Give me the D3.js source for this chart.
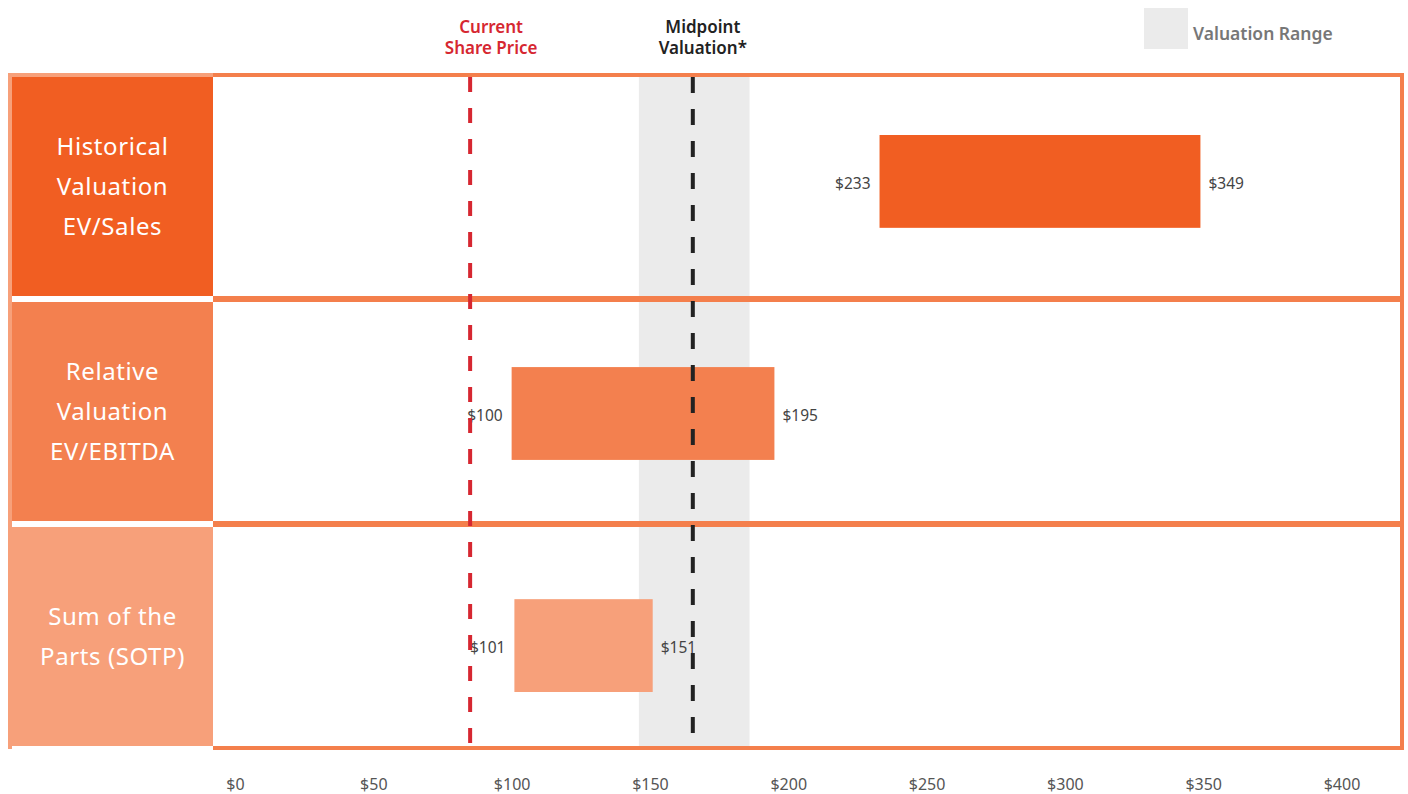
<!DOCTYPE html>
<html>
<head>
  <meta charset="utf-8">
  <title>Valuation Football Field</title>
  <script src="https://d3js.org/d3.v7.min.js"></script>
  <style>
    body { margin: 0; background: #fff; }
    svg { display: block; font-family: "Noto Sans", sans-serif; }
  </style>
</head>
<body>
  <svg id="chart" width="1408" height="794"></svg>

<script>
  /* data */
  const methods = ["Historical Valuation EV/Sales", "Relative Valuation EV/EBITDA", "Sum of the Parts (SOTP)"];
  const methodLines = [["Historical", "Valuation", "EV/Sales"], ["Relative", "Valuation", "EV/EBITDA"], ["Sum of the", "Parts (SOTP)"]];
  const lowValues = [233, 100, 101];
  const highValues = [349, 195, 151];
  const currentPrice = 85;
  const midpointValue = 165.5;
  const rangeBounds = [146, 186];
  const tickValues = [0, 50, 100, 150, 200, 250, 300, 350, 400];

  /* styles */
  const panelColors = ["#f15e22", "#f3804f", "#f7a07a"];
  const frameColor = "#f47f4c";
  const redColor = "#d62731";
  const darkColor = "#222222";
  const rangeColor = "#ebebeb";

  const svg = d3.select("#chart");

  const frame = { left: 8, panelLeft: 12, plotLeft: 213, right: 1404, top: 77, bottom: 746 };

  const x = d3.scaleLinear()
    .domain([0, 400])
    .range([235, 1341.5]);

  // rows (panels) and bars use their own band scales
  const rowY = d3.scaleBand()
    .domain(methods)
    .range([frame.top, frame.bottom])
    .paddingInner(6 / 225)
    .paddingOuter(0);

  const barY = d3.scaleBand()
    .domain(methods)
    .range([135, 692])
    .paddingInner(0.6)
    .paddingOuter(0);

  /* valuation range band */
  svg.append("rect")
    .attr("x", x(rangeBounds[0]))
    .attr("y", frame.top)
    .attr("width", x(rangeBounds[1]) - x(rangeBounds[0]))
    .attr("height", frame.bottom - frame.top)
    .attr("fill", rangeColor);

  /* frame */
  svg.append("rect")
    .attr("x", frame.left)
    .attr("y", 73)
    .attr("width", frame.right - frame.left)
    .attr("height", 4)
    .attr("fill", frameColor);

  svg.append("rect")
    .attr("x", frame.right - 4)
    .attr("y", 73)
    .attr("width", 4)
    .attr("height", 677)
    .attr("fill", frameColor);

  svg.append("rect")
    .attr("x", frame.plotLeft)
    .attr("y", frame.bottom)
    .attr("width", frame.right - frame.plotLeft)
    .attr("height", 4)
    .attr("fill", frameColor);

  // separators between rows
  svg.selectAll(".sep")
    .data(methods.slice(1))
    .enter()
    .append("rect")
    .attr("class", "sep")
    .attr("x", frame.plotLeft)
    .attr("y", d => rowY(d) - 6)
    .attr("width", frame.right - frame.plotLeft)
    .attr("height", 6)
    .attr("fill", frameColor);

  // light strip on left edge
  svg.append("rect")
    .attr("x", frame.left)
    .attr("y", 73)
    .attr("width", frame.plotLeft - frame.left)
    .attr("height", 4)
    .attr("fill", panelColors[2]);

  svg.append("rect")
    .attr("x", frame.left)
    .attr("y", 73)
    .attr("width", 4)
    .attr("height", 676)
    .attr("fill", panelColors[2]);

  /* left panels */
  svg.selectAll(".panel")
    .data(methods)
    .enter()
    .append("rect")
    .attr("class", "panel")
    .attr("x", frame.panelLeft)
    .attr("y", d => rowY(d))
    .attr("width", frame.plotLeft - frame.panelLeft)
    .attr("height", rowY.bandwidth())
    .attr("fill", (d, i) => panelColors[i]);

  const panelText = svg.selectAll(".panel-label")
    .data(methods)
    .enter()
    .append("text")
    .attr("class", "panel-label")
    .attr("text-anchor", "middle")
    .attr("fill", "#fff")
    .attr("font-size", 24)
    .attr("letter-spacing", 0.6);

  panelText.each(function (d, i) {
    const lines = methodLines[i];
    const cy = rowY(d) + rowY.bandwidth() / 2;
    d3.select(this).selectAll("tspan")
      .data(lines)
      .enter()
      .append("tspan")
      .attr("x", (frame.panelLeft + frame.plotLeft) / 2)
      .attr("y", (l, j) => cy + (j - (lines.length - 1) / 2) * 40)
      .attr("dy", "0.35em")
      .text(l => l);
  });

  /* bars */
  svg.selectAll(".bar")
    .data(methods)
    .enter()
    .append("rect")
    .attr("class", "bar")
    .attr("x", (d, i) => x(lowValues[i]))
    .attr("y", d => barY(d))
    .attr("width", (d, i) => x(highValues[i]) - x(lowValues[i]))
    .attr("height", barY.bandwidth())
    .attr("fill", (d, i) => panelColors[i]);

  svg.selectAll(".low-label")
    .data(methods)
    .enter()
    .append("text")
    .attr("x", (d, i) => x(lowValues[i]) - 9)
    .attr("y", d => barY(d) + barY.bandwidth() / 2 + 2)
    .attr("dy", "0.35em")
    .attr("text-anchor", "end")
    .attr("font-size", 15.5)
    .attr("fill", "#444")
    .text((d, i) => "$" + lowValues[i]);

  svg.selectAll(".high-label")
    .data(methods)
    .enter()
    .append("text")
    .attr("x", (d, i) => x(highValues[i]) + 8)
    .attr("y", d => barY(d) + barY.bandwidth() / 2 + 2)
    .attr("dy", "0.35em")
    .attr("text-anchor", "start")
    .attr("font-size", 15.5)
    .attr("fill", "#444")
    .text((d, i) => "$" + highValues[i]);

  /* reference lines */
  svg.append("line")
    .attr("x1", x(currentPrice)).attr("x2", x(currentPrice))
    .attr("y1", frame.top).attr("y2", frame.bottom)
    .attr("stroke", redColor)
    .attr("stroke-width", 4)
    .attr("stroke-dasharray", "15,16");

  svg.append("line")
    .attr("x1", x(midpointValue)).attr("x2", x(midpointValue))
    .attr("y1", frame.top).attr("y2", frame.bottom)
    .attr("stroke", darkColor)
    .attr("stroke-width", 4)
    .attr("stroke-dasharray", "16,16");

  /* reference line labels */
  const topLabel = (value, offset, lines, color) => {
    svg.append("text")
      .attr("text-anchor", "middle")
      .attr("font-size", 17)
      .attr("font-weight", 600)
      .attr("fill", color)
      .selectAll("tspan")
      .data(lines)
      .enter()
      .append("tspan")
      .attr("x", x(value) + offset)
      .attr("y", (l, j) => 33 + j * 21)
      .text(l => l);
  };
  topLabel(currentPrice, 21, ["Current", "Share Price"], redColor);
  topLabel(midpointValue, 10, ["Midpoint", "Valuation*"], darkColor);

  /* legend */
  svg.append("rect")
    .attr("x", 1144)
    .attr("y", 8)
    .attr("width", 44)
    .attr("height", 41)
    .attr("fill", rangeColor);

  svg.append("text")
    .attr("x", 1193)
    .attr("y", 34)
    .attr("dy", "0.35em")
    .attr("font-size", 17.5)
    .attr("font-weight", 600)
    .attr("fill", "#777")
    .text("Valuation Range");

  /* x axis */
  const xAxis = d3.axisBottom(x)
    .tickValues(tickValues)
    .tickFormat(d => "$" + d)
    .tickSize(0)
    .tickPadding(0);

  const axisG = svg.append("g")
    .attr("transform", "translate(0, 779)")
    .call(xAxis);

  axisG.select(".domain").remove();
  axisG.selectAll("text")
    .attr("font-family", "Noto Sans, sans-serif")
    .attr("font-size", 16)
    .attr("fill", "#555");
</script>
</body>
</html>
